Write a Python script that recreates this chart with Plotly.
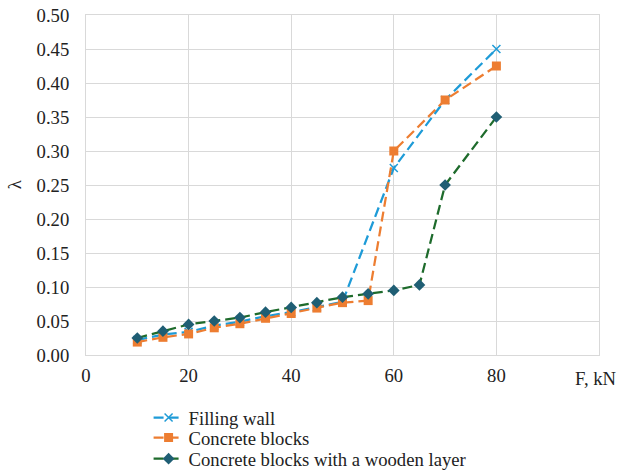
import plotly.graph_objects as go

# Data
x_fill = [10, 15, 20, 25, 30, 35, 40, 45, 50, 60, 70, 80]
y_fill = [0.022, 0.030, 0.034, 0.043, 0.049, 0.057, 0.063, 0.070, 0.078, 0.275, 0.375, 0.450]

x_conc = [10, 15, 20, 25, 30, 35, 40, 45, 50, 55, 60, 70, 80]
y_conc = [0.019, 0.026, 0.031, 0.040, 0.046, 0.054, 0.061, 0.069, 0.077, 0.080, 0.300, 0.375, 0.425]

x_wood = [10, 15, 20, 25, 30, 35, 40, 45, 50, 55, 60, 65, 70, 80]
y_wood = [0.025, 0.035, 0.045, 0.050, 0.055, 0.063, 0.070, 0.077, 0.085, 0.090, 0.095, 0.103, 0.250, 0.350]

x_tickvals = [0, 20, 40, 60, 80, 100]
x_ticktext = ["0", "20", "40", "60", "80", ""]
y_tickvals = [0.0, 0.05, 0.10, 0.15, 0.20, 0.25, 0.30, 0.35, 0.40, 0.45, 0.50]

FONT = "Liberation Serif"
FS = 18.67
DASH = "10px,5px"
TXT = "#222222"

fig = go.Figure()
fig.add_trace(go.Scatter(
    x=x_fill, y=y_fill, name="Filling wall", mode="lines+markers", legend="legend",
    line=dict(color="#1E9BD7", width=2.25, dash=DASH),
    marker=dict(symbol="x-thin", size=8, line=dict(color="#1E9BD7", width=1.5), color="#1E9BD7"),
))
fig.add_trace(go.Scatter(
    x=x_conc, y=y_conc, name="Concrete blocks", mode="lines+markers", legend="legend2",
    line=dict(color="#ED7D31", width=2.25, dash=DASH),
    marker=dict(symbol="square", size=9, color="#ED7D31"),
))
fig.add_trace(go.Scatter(
    x=x_wood, y=y_wood, name="Concrete blocks with a wooden layer", mode="lines+markers", legend="legend3",
    line=dict(color="#1E6B2C", width=2.25, dash=DASH),
    marker=dict(symbol="diamond", size=9, color="#1F5E74"),
))

def leg(y):
    return dict(x=0.122, y=y, xanchor="left", yanchor="middle", orientation="v",
                font=dict(family=FONT, size=FS, color=TXT), itemwidth=30,
                bgcolor="rgba(0,0,0,0)", borderwidth=0)

# Figure is taller than the 472px window (overflow hidden) so the legends never push the plot area.
fig.update_layout(
    width=619, height=520,
    margin=dict(l=86, r=20, t=15, b=165),
    paper_bgcolor="white", plot_bgcolor="white",
    font=dict(family=FONT, size=FS, color=TXT),
    showlegend=True,
    legend=leg(-0.185),
    legend2=leg(-0.244),
    legend3=leg(-0.3059),
    annotations=[
        dict(text="λ", xref="paper", yref="paper", x=-0.14, y=0.5, xanchor="center",
             showarrow=False, textangle=-90, font=dict(family=FONT, size=FS, color=TXT)),
        dict(text="F, kN", xref="paper", yref="paper", x=0.995, y=-0.032,
             xanchor="center", yanchor="top", showarrow=False,
             font=dict(family=FONT, size=FS, color=TXT)),
    ],
)
fig.update_xaxes(
    range=[0, 100], tickvals=x_tickvals, ticktext=x_ticktext,
    showgrid=True, gridcolor="#d9d9d9", gridwidth=1, zeroline=False,
    showline=True, linecolor="#d9d9d9", linewidth=1, mirror=True,
    ticks="", automargin=False, ticklabelstandoff=4, ticklabeloverflow="allow",
)
fig.update_yaxes(
    range=[0, 0.5], tickvals=y_tickvals, tickformat=".2f",
    showgrid=True, gridcolor="#d9d9d9", gridwidth=1, zeroline=False,
    showline=True, linecolor="#d9d9d9", linewidth=1, mirror=True,
    ticks="", automargin=False, ticklabelstandoff=12, ticklabeloverflow="allow",
)

fig.write_html(
    "out.html",
    config={"displayModeBar": False},
    post_script="document.body.style.margin='0';document.body.style.overflow='hidden';"
                "document.documentElement.style.overflow='hidden';",
)
